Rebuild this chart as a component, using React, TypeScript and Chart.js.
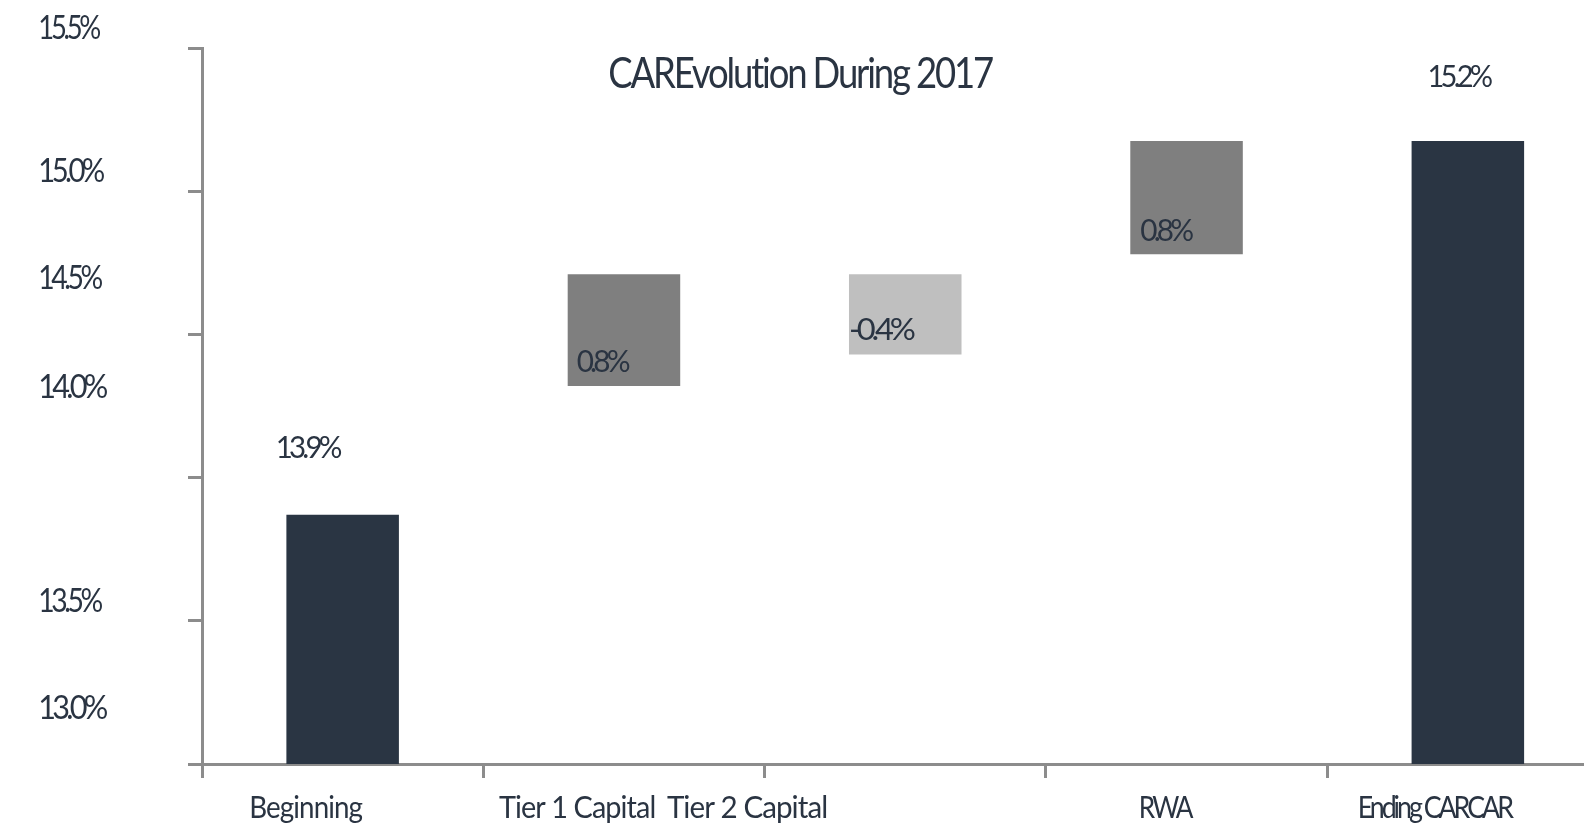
import { useEffect, useRef } from 'react';
import { Chart, registerables } from 'chart.js';

Chart.register(...registerables);

// ---------- data ----------
const categories = ['Beginning', 'Tier 1 Capital', 'Tier 2 Capital', 'RWA', 'Ending CARCAR'];
const barStart = [13.0, 14.32, 14.43, 14.78, 13.0];
const barEnd = [13.87, 14.71, 14.71, 15.175, 15.175];
const valueLabels = ['13.9%', '0.8%', '-0.4%', '0.8%', '15.2%'];
const yTickLabels = ['15.5%', '15.0%', '14.5%', '14.0%', '13.5%', '13.0%'];
const yLabelAt = [15.575, 15.074, 14.7, 14.32, 13.571, 13.199];
const xLabelAt = [0.373, 1.333, 1.937, 3.43, 4.39];
const titleText = 'CAREvolution During 2017';

// ---------- style ----------
const W = 1584;
const H = 830;
const textColor = '#2a3442';
const axisColor = '#8c8c8c';
const barColors = ['#2a3543', '#7f7f7f', '#bfbfbf', '#7f7f7f', '#2a3543'];
const yLabelWidths = [60, 64, 62, 67, 62, 67];
const xLabelWidths = [112, 156, 160, 53, 155];
const xLabelSpacing = [-1, -1, -1, -3, -3.5];
const valueLabelWidths = [64, 53, 65, 53, 63];
// [kind, dx, dy]: 'top' = centered above bar top, 'in' = left-aligned above bar bottom
const valueLabelPlace: [string, number, number][] = [
  ['top', -33, -68],
  ['in', 9, -24.5],
  ['in', 1, -25.7],
  ['in', 10, -24.7],
  ['top', -7, -65],
];

function drawText(
  ctx: CanvasRenderingContext2D,
  text: string,
  size: number,
  inkWidth: number,
  x: number,
  cy: number,
  align: 'left' | 'center',
  spacing: number
) {
  ctx.save();
  ctx.font = `${size}px Lato`;
  (ctx as any).letterSpacing = '0px';
  const cap = ctx.measureText('H').actualBoundingBoxAscent;
  (ctx as any).letterSpacing = `${spacing}px`;
  ctx.textAlign = 'left';
  ctx.textBaseline = 'alphabetic';
  const m = ctx.measureText(text);
  const w = m.actualBoundingBoxLeft + m.actualBoundingBoxRight;
  const sx = inkWidth / w;
  const left = align === 'left' ? x : x - inkWidth / 2;
  ctx.translate(left, cy + cap / 2);
  ctx.scale(sx, 1);
  ctx.fillStyle = textColor;
  ctx.fillText(text, m.actualBoundingBoxLeft, 0);
  ctx.restore();
}

const labelPlugin = {
  id: 'labelPlugin',
  afterDraw(chart: any) {
    const ctx = chart.ctx as CanvasRenderingContext2D;
    const ys = chart.scales.y;
    const xs = chart.scales.x;
    const area = chart.chartArea;
    // title
    drawText(ctx, titleText, 42, 383, 801.5, 72, 'center', -2.5);
    // y labels
    yTickLabels.forEach((t, i) => {
      drawText(ctx, t, 33, yLabelWidths[i], 40, ys.getPixelForValue(yLabelAt[i]), 'left', -4);
    });
    // x labels
    categories.forEach((c, i) => {
      drawText(ctx, c, 31, xLabelWidths[i], xs.getPixelForValue(xLabelAt[i]), area.bottom + 43, 'center', xLabelSpacing[i]);
    });
    // value labels
    const meta = chart.getDatasetMeta(0);
    meta.data.forEach((el: any, i: number) => {
      const [kind, dx, dy] = valueLabelPlace[i];
      const top = Math.min(el.y, el.base);
      const bottom = Math.max(el.y, el.base);
      if (kind === 'top') {
        drawText(ctx, valueLabels[i], 31, valueLabelWidths[i], el.x + dx, top + dy, 'center', -4);
      } else {
        drawText(ctx, valueLabels[i], 31, valueLabelWidths[i], el.x - el.width / 2 + dx, bottom + dy, 'left', -4);
      }
    });
  },
};

export default function App() {
  const ref = useRef<HTMLCanvasElement | null>(null);

  useEffect(() => {
    document.body.style.margin = '0';
    const canvas = ref.current;
    if (!canvas) return;
    const chart = new Chart(canvas, {
      type: 'bar',
      data: {
        datasets: [
          {
            data: categories.map((_, i) => ({ x: i + 0.5, y: [barStart[i], barEnd[i]] })) as any,
            backgroundColor: barColors,
            borderWidth: 0,
            barPercentage: 0.4,
            categoryPercentage: 1,
          },
        ],
      },
      options: {
        animation: false,
        responsive: false,
        maintainAspectRatio: false,
        devicePixelRatio: 1,
        layout: { padding: { top: 48, left: 0, right: 0, bottom: 0 } },
        plugins: {
          legend: { display: false },
          tooltip: { enabled: false },
          title: { display: false },
        },
        scales: {
          x: {
            type: 'linear',
            min: 0,
            max: (W - 202) / 281.3,
            offset: false,
            ticks: { stepSize: 1, includeBounds: false, callback: () => '' },
            grid: {
              offset: false,
              drawOnChartArea: false,
              drawTicks: true,
              tickLength: 14,
              color: axisColor,
              lineWidth: 3,
            },
            border: { display: true, color: axisColor, width: 3 },
            afterFit: (s: any) => {
              s.height = H - 764;
            },
          },
          y: {
            type: 'linear',
            min: 13,
            max: 15.5,
            beginAtZero: false,
            ticks: { stepSize: 0.5, callback: () => '' },
            grid: {
              drawOnChartArea: false,
              drawTicks: true,
              tickLength: 14,
              color: axisColor,
              lineWidth: 3,
            },
            border: { display: true, color: axisColor, width: 3 },
            afterFit: (s: any) => {
              s.width = 202;
            },
          },
        },
      } as any,
      plugins: [labelPlugin],
    });
    return () => chart.destroy();
  }, []);

  return (
    <div style={{ width: W, height: H, background: '#ffffff' }}>
      <canvas ref={ref} width={W} height={H} style={{ display: 'block', width: W, height: H }} />
    </div>
  );
}
